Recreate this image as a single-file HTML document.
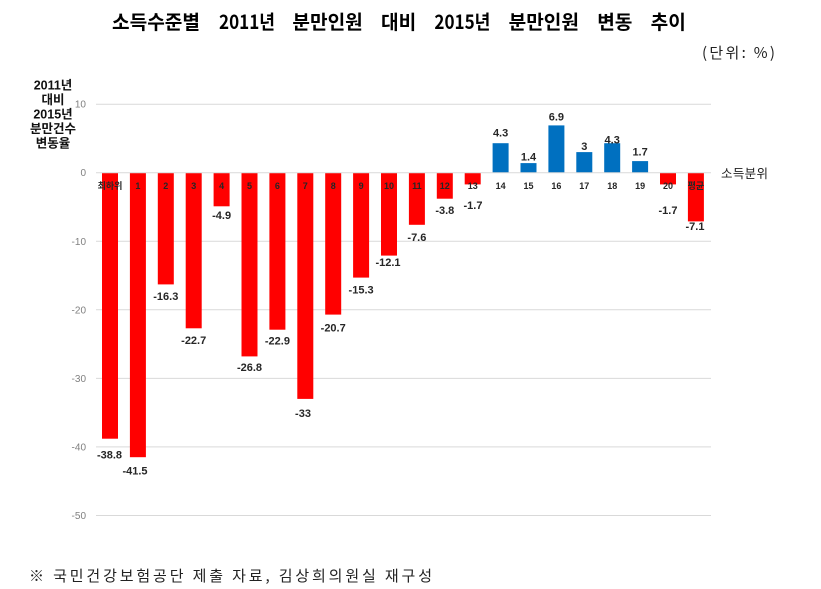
<!DOCTYPE html>
<html><head><meta charset="utf-8"><style>
html,body{margin:0;padding:0;background:#fff;}
svg{display:block;}
text{font-family:"Liberation Sans","Noto Sans CJK KR",sans-serif;}
.k{font-family:"Noto Sans CJK KR","Liberation Sans",sans-serif;}
.v{font-size:11px;font-weight:bold;fill:#262626;text-anchor:middle;}
.c{font-size:9px;font-weight:bold;fill:#262626;text-anchor:middle;}
.t{font-size:10px;fill:#808080;text-anchor:end;}
.ti{font-family:"Noto Sans CJK KR","Liberation Sans",sans-serif;font-size:19.5px;font-weight:bold;fill:#000;}
</style></head><body>
<svg width="821" height="589" viewBox="0 0 821 589" xmlns="http://www.w3.org/2000/svg">
<rect width="821" height="589" fill="#fff"/>
<text class="ti" x="112" y="29" textLength="88" lengthAdjust="spacingAndGlyphs">소득수준별</text>
<text class="ti" x="219" y="29" textLength="56" lengthAdjust="spacingAndGlyphs">2011년</text>
<text class="ti" x="292.4" y="29" textLength="70.4" lengthAdjust="spacingAndGlyphs">분만인원</text>
<text class="ti" x="381" y="29" textLength="35.2" lengthAdjust="spacingAndGlyphs">대비</text>
<text class="ti" x="434.4" y="29" textLength="56" lengthAdjust="spacingAndGlyphs">2015년</text>
<text class="ti" x="508.6" y="29" textLength="70.4" lengthAdjust="spacingAndGlyphs">분만인원</text>
<text class="ti" x="597.2" y="29" textLength="35.2" lengthAdjust="spacingAndGlyphs">변동</text>
<text class="ti" x="650.6" y="29" textLength="35.2" lengthAdjust="spacingAndGlyphs">추이</text>
<text class="k" x="702" y="58" font-size="15" fill="#222" textLength="73" lengthAdjust="spacing">(단위: %)</text>

<g class="k" font-size="12.5" font-weight="bold" fill="#111" text-anchor="middle">
<text x="53" y="89.5">2011년</text>
<text x="53" y="104">대비</text>
<text x="53" y="118.5">2015년</text>
<text x="53" y="133">분만건수</text>
<text x="53" y="147.5">변동율</text>
</g>

<g stroke="#d9d9d9" stroke-width="1">
<line x1="96" y1="104.2" x2="711" y2="104.2"/>
<line x1="96" y1="241.3" x2="711" y2="241.3"/>
<line x1="96" y1="309.8" x2="711" y2="309.8"/>
<line x1="96" y1="378.4" x2="711" y2="378.4"/>
<line x1="96" y1="446.9" x2="711" y2="446.9"/>
<line x1="96" y1="515.5" x2="711" y2="515.5"/>
</g>

<g>
<text class="t" x="86" y="107.7">10</text>
<text class="t" x="86" y="176.2">0</text>
<text class="t" x="86" y="244.8">-10</text>
<text class="t" x="86" y="313.3">-20</text>
<text class="t" x="86" y="381.9">-30</text>
<text class="t" x="86" y="450.4">-40</text>
<text class="t" x="86" y="519">-50</text>
</g>

<g fill="#ff0000">
<rect x="102" y="172.7" width="16" height="266"/>
<rect x="129.9" y="172.7" width="16" height="284.5"/>
<rect x="157.8" y="172.7" width="16" height="111.7"/>
<rect x="185.7" y="172.7" width="16" height="155.6"/>
<rect x="213.6" y="172.7" width="16" height="33.6"/>
<rect x="241.5" y="172.7" width="16" height="183.7"/>
<rect x="269.4" y="172.7" width="16" height="157"/>
<rect x="297.3" y="172.7" width="16" height="226.2"/>
<rect x="325.2" y="172.7" width="16" height="141.9"/>
<rect x="353.1" y="172.7" width="16" height="104.9"/>
<rect x="381" y="172.7" width="16" height="82.9"/>
<rect x="408.9" y="172.7" width="16" height="52.1"/>
<rect x="436.8" y="172.7" width="16" height="26"/>
<rect x="464.7" y="172.7" width="16" height="11.7"/>
<rect x="660" y="172.7" width="16" height="11.7"/>
<rect x="687.9" y="172.7" width="16" height="48.7"/>
</g>
<g fill="#0070c0">
<rect x="492.6" y="143.2" width="16" height="29.5"/>
<rect x="520.5" y="163.1" width="16" height="9.6"/>
<rect x="548.4" y="125.4" width="16" height="47.3"/>
<rect x="576.3" y="152.1" width="16" height="20.6"/>
<rect x="604.2" y="143.2" width="16" height="29.5"/>
<rect x="632.1" y="161.1" width="16" height="11.6"/>
</g>
<line x1="96" y1="172.7" x2="711" y2="172.7" stroke="#d9d9d9" stroke-width="1"/>

<g>
<text class="c k" x="110" y="189" font-size="8">최하위</text>
<text class="c" x="137.9" y="189">1</text>
<text class="c" x="165.8" y="189">2</text>
<text class="c" x="193.7" y="189">3</text>
<text class="c" x="221.6" y="189">4</text>
<text class="c" x="249.5" y="189">5</text>
<text class="c" x="277.4" y="189">6</text>
<text class="c" x="305.3" y="189">7</text>
<text class="c" x="333.2" y="189">8</text>
<text class="c" x="361.1" y="189">9</text>
<text class="c" x="389" y="189">10</text>
<text class="c" x="416.9" y="189">11</text>
<text class="c" x="444.8" y="189">12</text>
<text class="c" x="472.7" y="189">13</text>
<text class="c" x="500.6" y="189">14</text>
<text class="c" x="528.5" y="189">15</text>
<text class="c" x="556.4" y="189">16</text>
<text class="c" x="584.3" y="189">17</text>
<text class="c" x="612.2" y="189">18</text>
<text class="c" x="640.1" y="189">19</text>
<text class="c" x="668" y="189">20</text>
<text class="c k" x="695.9" y="189" font-size="8">평균</text>
</g>

<g>
<text class="v" x="109.5" y="458.3">-38.8</text>
<text class="v" x="135" y="474.7">-41.5</text>
<text class="v" x="165.8" y="300">-16.3</text>
<text class="v" x="193.7" y="344">-22.7</text>
<text class="v" x="221.6" y="219">-4.9</text>
<text class="v" x="249.5" y="371">-26.8</text>
<text class="v" x="277.4" y="344.7">-22.9</text>
<text class="v" x="303" y="417">-33</text>
<text class="v" x="333.2" y="331.7">-20.7</text>
<text class="v" x="361.1" y="293.3">-15.3</text>
<text class="v" x="388" y="266">-12.1</text>
<text class="v" x="416.9" y="241">-7.6</text>
<text class="v" x="444.8" y="214">-3.8</text>
<text class="v" x="473" y="209">-1.7</text>
<text class="v" x="500.6" y="136.7">4.3</text>
<text class="v" x="528.5" y="160.7">1.4</text>
<text class="v" x="556.4" y="120.7">6.9</text>
<text class="v" x="584.3" y="150">3</text>
<text class="v" x="612.2" y="143.3">4.3</text>
<text class="v" x="640.1" y="155.7">1.7</text>
<text class="v" x="668" y="214">-1.7</text>
<text class="v" x="695" y="230">-7.1</text>
</g>

<text class="k" x="721" y="178" font-size="12.5" fill="#222" textLength="47" lengthAdjust="spacing">소득분위</text>

<text class="k" x="29" y="581" font-size="15" fill="#222" textLength="403" lengthAdjust="spacing">※ 국민건강보험공단 제출 자료, 김상희의원실 재구성</text>
</svg>
</body></html>
